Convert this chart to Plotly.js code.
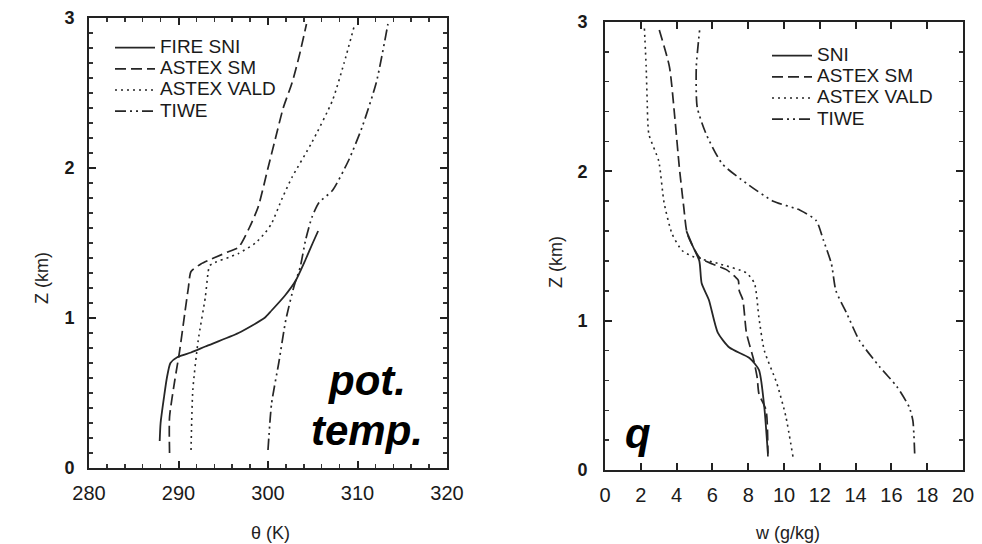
<!DOCTYPE html>
<html><head><meta charset="utf-8">
<script src="https://cdn.plot.ly/plotly-3.0.1.min.js"></script>
<style>html,body{margin:0;padding:0;background:#fff}</style>
</head><body>
<div id="chart" style="width:982px;height:544px"></div>
<script>
// ---- Left panel: potential temperature (K) vs height (km)
const thSNI_z = [0.18, 0.3, 0.48, 0.6, 0.7, 0.74, 0.77, 0.81, 0.9, 1.0, 1.05, 1.15, 1.25, 1.39, 1.5, 1.58];
const thSNI_v = [287.9, 288.0, 288.4, 288.7, 289.1, 289.9, 291.4, 293.0, 296.7, 299.6, 300.4, 301.9, 303.1, 304.2, 305.0, 305.6];
const thSM_z = [0.1, 0.34, 0.59, 0.77, 1.03, 1.2, 1.31, 1.36, 1.44, 1.47, 1.6, 1.74, 2.0, 2.19, 2.4, 2.57, 2.75, 2.96];
const thSM_v = [289.0, 289.0, 289.6, 290.1, 290.7, 291.1, 291.4, 292.5, 295.5, 296.7, 297.9, 298.9, 300.0, 300.8, 301.7, 302.7, 303.5, 304.3];
const thVALD_z = [0.12, 0.52, 0.85, 1.14, 1.3, 1.35, 1.43, 1.5, 1.57, 1.63, 1.8, 1.94, 2.17, 2.45, 2.7, 2.96];
const thVALD_v = [291.4, 291.6, 292.2, 293.0, 293.3, 293.5, 296.7, 298.6, 299.7, 300.4, 301.6, 302.7, 304.9, 307.2, 308.5, 309.7];
const thTIWE_z = [0.12, 0.43, 0.7, 0.99, 1.21, 1.34, 1.52, 1.67, 1.77, 1.85, 2.05, 2.27, 2.57, 2.96];
const thTIWE_v = [300.0, 300.4, 301.2, 302.0, 302.9, 303.6, 304.2, 304.9, 305.7, 307.2, 309.0, 310.5, 312.1, 313.4];

// ---- Right panel: mixing ratio w (g/kg) vs height (km)
const wSNI_z = [0.11, 0.42, 0.67, 0.75, 0.82, 0.92, 1.14, 1.25, 1.4, 1.5, 1.6];
const wSNI_v = [9.1, 8.9, 8.6, 8.07, 6.95, 6.3, 5.8, 5.4, 5.27, 4.9, 4.55];
const wSM_z = [0.09, 0.4, 0.51, 0.62, 0.74, 0.92, 1.14, 1.2, 1.27, 1.29, 1.34, 1.38, 1.42, 1.58, 1.76, 2.03, 2.36, 2.7, 2.96];
const wSM_v = [9.1, 9.0, 8.6, 8.5, 8.3, 7.9, 7.7, 7.5, 7.45, 7.3, 6.8, 6.0, 5.3, 4.6, 4.4, 4.15, 3.9, 3.6, 3.0];
const wVALD_z = [0.09, 0.36, 0.58, 0.8, 1.02, 1.25, 1.32, 1.38, 1.43, 1.47, 1.58, 1.79, 2.07, 2.25, 2.5, 2.7, 2.96];
const wVALD_v = [10.5, 10.1, 9.6, 8.9, 8.6, 8.35, 7.9, 6.4, 4.9, 4.3, 3.75, 3.3, 3.0, 2.45, 2.35, 2.3, 2.2];
const wTIWE_z = [0.11, 0.33, 0.42, 0.56, 0.69, 0.87, 1.05, 1.2, 1.38, 1.54, 1.67, 1.74, 1.8, 1.92, 2.05, 2.25, 2.43, 2.7, 2.96];
const wTIWE_v = [17.3, 17.2, 17.0, 16.3, 15.35, 14.2, 13.5, 12.9, 12.65, 12.2, 11.8, 10.9, 9.4, 7.9, 6.55, 5.65, 5.15, 5.1, 5.3];

const leftNames = ['FIRE SNI', 'ASTEX SM', 'ASTEX VALD', 'TIWE'];
const rightNames = ['SNI', 'ASTEX SM', 'ASTEX VALD', 'TIWE'];

(function () {
  const ink = '#262626';
  const dashList = ['solid', '11px,5px', '2px,4px', '11px,4px,2px,4px,2px,4px'];
  const widthList = [1.8, 1.7, 1.6, 1.7];
  const bigName = (s) => '<span style="font-size:19px">' + s + '</span>';

  const lData = [[thSNI_v, thSNI_z], [thSM_v, thSM_z], [thVALD_v, thVALD_z], [thTIWE_v, thTIWE_z]];
  const rData = [[wSNI_v, wSNI_z], [wSM_v, wSM_z], [wVALD_v, wVALD_z], [wTIWE_v, wTIWE_z]];

  const tr = [];
  lData.forEach((d, i) => tr.push({
    x: d[0], y: d[1], type: 'scatter', mode: 'lines', name: bigName(leftNames[i]),
    xaxis: 'x', yaxis: 'y', legend: 'legend',
    line: {color: ink, width: widthList[i], dash: dashList[i], shape: 'spline', smoothing: 0.6}
  }));
  rData.forEach((d, i) => tr.push({
    x: d[0], y: d[1], type: 'scatter', mode: 'lines', name: bigName(rightNames[i]),
    xaxis: 'x2', yaxis: 'y2', legend: 'legend2',
    line: {color: ink, width: widthList[i], dash: dashList[i], shape: 'spline', smoothing: 0.6}
  }));

  const PW = 982, PH = 544;
  const fam = 'Liberation Sans, Arial, sans-serif';
  function axisBase() {
    return {
      showgrid: false, zeroline: false, showline: true, linecolor: '#222', linewidth: 2,
      mirror: 'allticks', ticks: 'inside', ticklen: 7, tickwidth: 2, tickcolor: '#222',
      tickfont: {family: fam, size: 20, color: '#1a1a1a'}, ticklabelstandoff: 6, fixedrange: true,
      layer: 'above traces'
    };
  }
  const yTF = {family: fam, size: 18, color: '#1a1a1a', weight: 'bold'};
  const minorT = (dt) => ({dtick: dt, ticks: 'inside', ticklen: 4, tickwidth: 1.5, tickcolor: '#333'});
  const lf = {family: fam, size: 14, color: '#1a1a1a'};
  const tf = {family: fam, size: 18, color: '#222'};

  const L = {
    width: PW, height: PH, margin: {l: 0, r: 0, t: 0, b: 0},
    paper_bgcolor: '#fff', plot_bgcolor: '#fff', showlegend: true,
    xaxis: Object.assign(axisBase(), {domain: [89 / PW, 447 / PW], range: [280, 320], dtick: 10, tick0: 280,
      minor: minorT(2), anchor: 'y'}),
    yaxis: Object.assign(axisBase(), {domain: [1 - 468 / PH, 1 - 18 / PH], range: [0, 3], dtick: 1,
      minor: minorT(0.1), anchor: 'x', tickfont: yTF, ticklabelstandoff: 9}),
    xaxis2: Object.assign(axisBase(), {domain: [605 / PW, 963 / PW], range: [0, 20], dtick: 2, anchor: 'y2'}),
    yaxis2: Object.assign(axisBase(), {domain: [1 - 470 / PH, 1 - 22 / PH], range: [0, 3], dtick: 1,
      minor: minorT(0.2), anchor: 'x2', tickfont: yTF, ticklabelstandoff: 12}),
    legend: {x: 110 / PW, y: 1 - 32 / PH, xanchor: 'left', yanchor: 'top', bgcolor: 'rgba(0,0,0,0)',
      font: lf, tracegroupgap: 0, itemwidth: 40},
    legend2: {x: 767 / PW, y: 1 - 40 / PH, xanchor: 'left', yanchor: 'top', bgcolor: 'rgba(0,0,0,0)',
      font: lf, tracegroupgap: 0, itemwidth: 40},
    annotations: [
      {xref: 'paper', yref: 'paper', x: 270 / PW, y: 1 - 533 / PH, xanchor: 'center', yanchor: 'middle',
        text: 'θ (K)', showarrow: false, font: tf},
      {xref: 'paper', yref: 'paper', x: 787 / PW, y: 1 - 533 / PH, xanchor: 'center', yanchor: 'middle',
        text: 'w (g/kg)', showarrow: false, font: tf},
      {xref: 'paper', yref: 'paper', x: 42 / PW, y: 1 - 278 / PH, xanchor: 'center', yanchor: 'middle',
        text: 'Z (km)', textangle: -90, showarrow: false, font: tf},
      {xref: 'paper', yref: 'paper', x: 556 / PW, y: 1 - 262 / PH, xanchor: 'center', yanchor: 'middle',
        text: 'Z (km)', textangle: -90, showarrow: false, font: tf},
      {xref: 'paper', yref: 'paper', x: 367 / PW, y: 1 - 380 / PH, xanchor: 'center', yanchor: 'middle',
        text: '<b><i>pot.</i></b>', showarrow: false, font: {family: fam, size: 42, color: '#000'}},
      {xref: 'paper', yref: 'paper', x: 367 / PW, y: 1 - 430 / PH, xanchor: 'center', yanchor: 'middle',
        text: '<b><i>temp.</i></b>', showarrow: false, font: {family: fam, size: 42, color: '#000'}},
      {xref: 'paper', yref: 'paper', x: 638 / PW, y: 1 - 433 / PH, xanchor: 'center', yanchor: 'middle',
        text: '<b><i>q</i></b>', showarrow: false, font: {family: fam, size: 42, color: '#000'}}
    ]
  };

  Plotly.newPlot('chart', tr, L, {staticPlot: true, displayModeBar: false});
})();
</script>
</body></html>
